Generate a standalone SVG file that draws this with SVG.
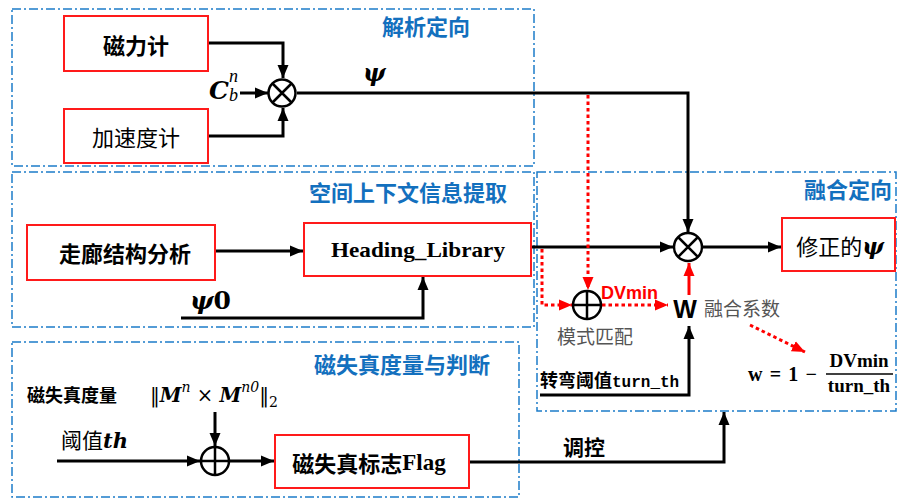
<svg xmlns="http://www.w3.org/2000/svg" width="901" height="500" viewBox="0 0 901 500">
<defs>
<marker id="ah" markerUnits="userSpaceOnUse" markerWidth="14" markerHeight="12" refX="13" refY="6" orient="auto"><path d="M0,0.5 L13,6 L0,11.5 z" fill="#000"/></marker>
<marker id="ahr" markerUnits="userSpaceOnUse" markerWidth="14" markerHeight="12" refX="13" refY="6" orient="auto"><path d="M0,0.5 L13,6 L0,11.5 z" fill="#FF0000"/></marker>
<style>
.grp{fill:none;stroke:#1C7CC9;stroke-width:1.5;stroke-dasharray:9 3 2 3}
.ttl{font-family:"Noto Sans CJK SC",sans-serif;font-weight:bold;font-size:22px;fill:#1370BE;text-anchor:end}
.box{fill:#fff;stroke:#FF1A1A;stroke-width:2}
.lbl{font-family:"Liberation Serif","Noto Sans CJK SC",serif;font-size:22px;fill:#000;text-anchor:middle;dominant-baseline:central}
.cjk{font-family:"Noto Sans CJK SC",sans-serif}
.psi{font-family:"DejaVu Serif",serif;font-weight:bold;font-style:italic}
.ln{fill:none;stroke:#000;stroke-width:3}
.rd{fill:none;stroke:#FF0000;stroke-width:3;stroke-dasharray:3.5 3}
.rs{fill:none;stroke:#FF0000;stroke-width:3}
.op{fill:#fff;stroke:#000;stroke-width:2.5}
.gray{font-family:"Noto Sans CJK SC",sans-serif;font-size:19px;fill:#555}
</style>
</defs>
<rect width="901" height="500" fill="#fff"/>

<g id="groups">
<rect class="grp" x="12" y="9" width="522" height="157"/>
<text class="ttl" x="470" y="35">解析定向</text>
<rect class="grp" x="12" y="172" width="522" height="155"/>
<text class="ttl" x="507" y="201">空间上下文信息提取</text>
<rect class="grp" x="12" y="342" width="507" height="155"/>
<text class="ttl" x="490" y="373">磁失真度量与判断</text>
<rect class="grp" x="537" y="172" width="359" height="239"/>
<text class="ttl" x="892" y="198">融合定向</text>
</g>

<g id="connectors">
<polyline class="ln" points="208,43 283,43 283,78" marker-end="url(#ah)"/>
<polyline class="ln" points="208,136 283,136 283,108" marker-end="url(#ah)"/>
<line class="ln" x1="240" y1="93" x2="268" y2="93" marker-end="url(#ah)"/>
<polyline class="ln" points="297,93 688,93 688,232" marker-end="url(#ah)"/>
<line class="ln" x1="215" y1="251" x2="303" y2="251" marker-end="url(#ah)"/>
<polyline class="ln" points="181,318 423,318 423,277" marker-end="url(#ah)"/>
<line class="ln" x1="531" y1="247" x2="673" y2="247" marker-end="url(#ah)"/>
<line class="ln" x1="702" y1="247" x2="781" y2="247" marker-end="url(#ah)"/>
<polyline class="rd" points="588,95 588,290" marker-end="url(#ahr)"/>
<polyline class="rd" points="542,249 542,305 572,305" marker-end="url(#ahr)"/>
<line class="rd" x1="602" y1="305" x2="668" y2="305" marker-end="url(#ahr)"/>
<line class="rs" x1="689" y1="295" x2="689" y2="263" marker-end="url(#ahr)"/>
<line class="rd" x1="750" y1="325" x2="805" y2="352" marker-end="url(#ahr)"/>
<polyline class="ln" points="540,395 689,395 689,326" marker-end="url(#ah)"/>
<line class="ln" x1="57" y1="461" x2="200" y2="461" marker-end="url(#ah)"/>
<line class="ln" x1="215" y1="412" x2="215" y2="446" marker-end="url(#ah)"/>
<line class="ln" x1="230" y1="461" x2="274" y2="461" marker-end="url(#ah)"/>
<polyline class="ln" points="469,462 724,462 724,412" marker-end="url(#ah)"/>
</g>

<g id="n_mag">
<rect class="box" x="64" y="16" width="144" height="55"/>
<text class="lbl cjk" x="136" y="44" font-weight="bold">磁力计</text>
</g>
<g id="n_acc">
<rect class="box" x="64" y="109" width="144" height="54"/>
<text class="lbl cjk" x="136" y="136">加速度计</text>
</g>
<g id="n_mult1">
<circle class="op" cx="282" cy="93" r="13.5"/>
<path d="M272.5,83.5 L291.5,102.5 M291.5,83.5 L272.5,102.5" stroke="#000" stroke-width="2.5"/>
<text x="209" y="99" font-family="DejaVu Serif,serif" font-size="25" font-weight="bold" font-style="italic">C</text>
<text x="229" y="82" font-family="Liberation Serif,serif" font-size="18" font-style="italic">n</text>
<text x="229" y="101" font-family="Liberation Serif,serif" font-size="18" font-style="italic">b</text>
<text class="psi" x="363" y="81" font-size="24">ψ</text>
</g>

<g id="n_corr">
<rect class="box" x="27" y="225" width="188" height="55"/>
<text class="lbl cjk" x="125" y="252" font-weight="bold">走廊结构分析</text>
</g>
<g id="n_hl">
<rect class="box" x="304" y="223" width="227" height="53"/>
<text class="lbl" x="418" y="249" font-size="20" font-weight="bold" textLength="174" lengthAdjust="spacingAndGlyphs">Heading_Library</text>
</g>
<g id="n_psi0">
<text x="190" y="309" font-size="25"><tspan class="psi">ψ</tspan><tspan font-family="DejaVu Serif,serif" font-weight="bold">0</tspan></text>
</g>

<g id="n_metric">
<text x="27" y="402" font-family="Noto Sans CJK SC,sans-serif" font-size="18" font-weight="bold">磁失真度量</text>
<text x="150" y="402" font-family="DejaVu Serif,serif" font-size="21" textLength="128" lengthAdjust="spacingAndGlyphs">‖<tspan font-weight="bold" font-style="italic">M</tspan><tspan font-size="15" font-style="italic" dy="-10">n</tspan><tspan dy="10"> × </tspan><tspan font-weight="bold" font-style="italic">M</tspan><tspan font-size="15" font-style="italic" dy="-10">n0</tspan><tspan dy="10">‖</tspan><tspan font-size="15" dy="5">2</tspan></text>
</g>
<g id="n_th">
<text x="61" y="448" font-size="21"><tspan font-family="Noto Sans CJK SC,sans-serif">阈值</tspan><tspan font-family="DejaVu Serif,serif" font-weight="bold" font-style="italic" font-size="21">th</tspan></text>
</g>
<g id="n_plus1">
<circle class="op" cx="215" cy="461" r="14"/>
<path d="M201,461 L229,461 M215,447 L215,475" stroke="#000" stroke-width="2.5"/>
</g>
<g id="n_flag">
<rect class="box" x="275" y="435" width="194" height="53"/>
<text class="lbl" x="369" y="462" font-weight="bold"><tspan class="cjk">磁失真标志</tspan><tspan font-size="23">Flag</tspan></text>
</g>
<text x="563" y="455" font-family="Noto Sans CJK SC,sans-serif" font-size="21" font-weight="bold">调控</text>

<g id="n_fuse">
<circle class="op" cx="688" cy="247" r="14"/>
<path d="M678,237 L698,257 M698,237 L678,257" stroke="#000" stroke-width="2.5"/>
</g>
<g id="n_out">
<rect class="box" x="782" y="218" width="113" height="53"/>
<text class="lbl" x="840" y="245"><tspan class="cjk">修正的</tspan><tspan class="psi" font-size="23">ψ</tspan></text>
</g>
<g id="n_match">
<circle class="op" cx="587" cy="305" r="14"/>
<path d="M573,305 L601,305 M587,291 L587,319" stroke="#000" stroke-width="2.5"/>
<text class="gray" x="557" y="344">模式匹配</text>
</g>
<text x="601" y="299" font-family="Liberation Sans,sans-serif" font-size="18" font-weight="bold" fill="#FF0000">DVmin</text>
<g id="n_w">
<text x="685" y="318" font-family="Liberation Sans,sans-serif" font-size="25" font-weight="bold" text-anchor="middle">W</text>
<text class="gray" x="704" y="316">融合系数</text>
</g>
<g id="n_turn">
<text x="540" y="387" font-size="18" font-weight="bold"><tspan font-family="Noto Sans CJK SC,sans-serif">转弯阈值</tspan><tspan font-family="Liberation Mono,monospace" font-size="16">turn_th</tspan></text>
</g>
<g id="n_formula">
<text x="748" y="381" font-family="Liberation Serif,serif" font-size="20" font-weight="bold" textLength="69" lengthAdjust="spacing">w = 1 −</text>
<text x="859" y="367" font-family="Liberation Serif,serif" font-size="19" font-weight="bold" text-anchor="middle">DVmin</text>
<line x1="826" y1="374" x2="893" y2="374" stroke="#000" stroke-width="1.5"/>
<text x="859" y="392" font-family="Liberation Serif,serif" font-size="19" font-weight="bold" text-anchor="middle">turn_th</text>
</g>
</svg>
